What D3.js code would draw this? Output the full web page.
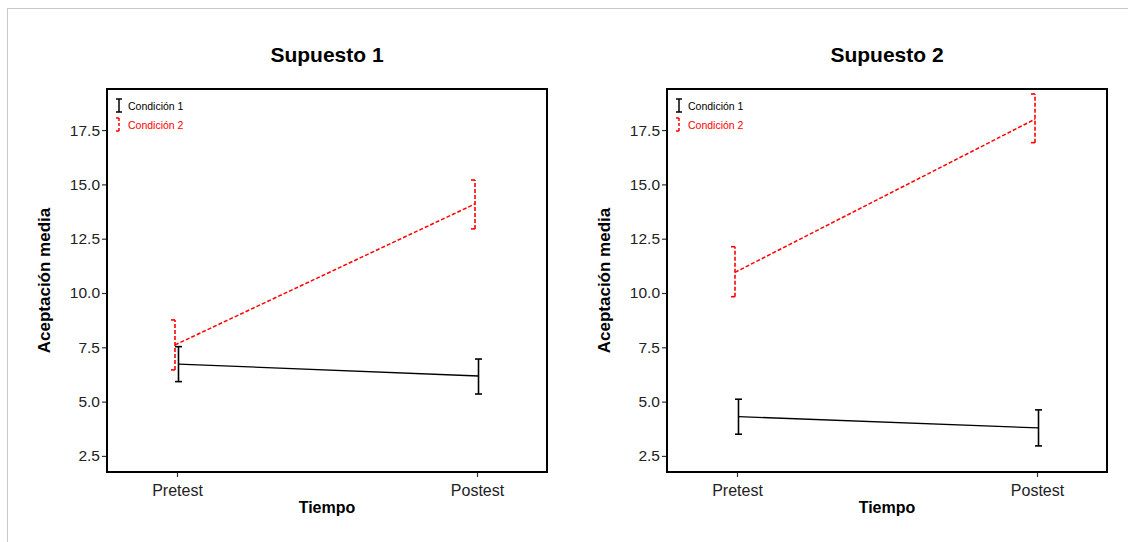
<!DOCTYPE html>
<html>
<head>
<meta charset="utf-8">
<script src="https://cdn.jsdelivr.net/npm/d3@7"></script>
<style>
  body { margin: 0; background: #fff; }
  text { font-family: "Liberation Sans", Arial, sans-serif; }
</style>
</head>
<body>
<svg id="chart" width="1128" height="542"></svg>
<script>
// data
const times = ["Pretest", "Postest"];
const conditions = ["Condición 1", "Condición 2"];
const panelTitles = ["Supuesto 1", "Supuesto 2"];
const yTicks = [2.5, 5.0, 7.5, 10.0, 12.5, 15.0, 17.5];

// Supuesto 1
const s1c1Mean = [6.73, 6.18];
const s1c1Low  = [5.92, 5.35];
const s1c1High = [7.53, 6.96];
const s1c2Mean = [7.61, 14.1];
const s1c2Low  = [6.46, 12.95];
const s1c2High = [8.76, 15.2];

// Supuesto 2
const s2c1Mean = [4.31, 3.79];
const s2c1Low  = [3.50, 2.96];
const s2c1High = [5.11, 4.62];
const s2c2Mean = [10.95, 18.0];
const s2c2Low  = [9.83, 16.92];
const s2c2High = [12.13, 19.16];

const panels = [
  { title: panelTitles[0], series: [
    { mean: s1c1Mean, low: s1c1Low, high: s1c1High },
    { mean: s1c2Mean, low: s1c2Low, high: s1c2High } ] },
  { title: panelTitles[1], series: [
    { mean: s2c1Mean, low: s2c1Low, high: s2c1High },
    { mean: s2c2Mean, low: s2c2Low, high: s2c2High } ] }
];

const svg = d3.select("#chart");

// light frame round the picture (right and bottom run off the page)
svg.append("rect")
  .attr("x", 7.5).attr("y", 8.5)
  .attr("width", 1130).attr("height", 540)
  .attr("fill", "none").attr("stroke", "#c8c8c8");

const W = 440, H = 383;
const colors = ["#000", "#ff0000"];
const dodge = [1.5, -2];

panels.forEach((p, pi) => {
  const g = svg.append("g").attr("transform", `translate(${107 + pi * 560}, 89)`);

  const x = d3.scalePoint().domain(times).range([0, W]).padding(0.2333);
  const y = d3.scaleLinear().domain([1.76, 19.39]).range([H, 0]);

  // axes
  const ya = g.append("g").call(d3.axisLeft(y).tickValues(yTicks).tickFormat(d3.format(".1f")).tickSize(5).tickPadding(2));
  const xa = g.append("g").attr("transform", `translate(0,${H})`)
    .call(d3.axisBottom(x).tickSize(5).tickPadding(8));
  [ya, xa].forEach(a => {
    a.select(".domain").remove();
    a.selectAll("line").attr("stroke", "#333").attr("stroke-width", 1.2);
    a.selectAll("text").attr("font-size", 15.5).attr("fill", "#222")
      .style("font-family", "'Liberation Sans', Arial, sans-serif");
  });
  xa.selectAll("text").attr("font-size", 16);

  // lines and error bars
  p.series.forEach((s, si) => {
    const dash = si === 1 ? "4,2" : null;
    const px = i => x(times[i]) + dodge[si];

    g.append("path")
      .datum(s.mean)
      .attr("d", d3.line().x((d, i) => px(i)).y(d => y(d)))
      .attr("fill", "none")
      .attr("stroke", colors[si])
      .attr("stroke-width", si === 1 ? 1.5 : 1.3)
      .attr("stroke-dasharray", dash);

    s.mean.forEach((m, i) => {
      const cx = px(i);
      const eb = g.append("g").attr("stroke", colors[si]).attr("stroke-width", 1.6)
        .attr("stroke-dasharray", dash).attr("fill", "none");
      eb.append("line").attr("x1", cx).attr("x2", cx).attr("y1", y(s.low[i])).attr("y2", y(s.high[i]));
      const c0 = si === 1 ? cx - 4 : cx - 3.5, c1 = si === 1 ? cx : cx + 3.5;
      [s.low[i], s.high[i]].forEach(v => {
        eb.append("line").attr("x1", c0).attr("x2", c1).attr("y1", y(v)).attr("y2", y(v))
          .attr("stroke-dasharray", null);
      });
    });
  });

  // frame
  g.append("rect").attr("width", W).attr("height", H)
    .attr("fill", "none").attr("stroke", "#000").attr("stroke-width", 2);

  // legend
  conditions.forEach((c, ci) => {
    const ly = 17 + ci * 19;
    const lg = g.append("g").attr("stroke", colors[ci]).attr("stroke-width", 1.5)
      .attr("stroke-dasharray", ci === 1 ? "3,2" : null);
    lg.append("line").attr("x1", 12).attr("x2", 12).attr("y1", ly - 7).attr("y2", ly + 6);
    const c0 = 9, c1 = ci === 1 ? 12 : 15;
    [ly - 7, ly + 6].forEach(v => lg.append("line").attr("x1", c0).attr("x2", c1)
      .attr("y1", v).attr("y2", v).attr("stroke-dasharray", null));
    g.append("text").attr("x", 21).attr("y", ly + 4)
      .attr("font-size", 10.5).attr("fill", colors[ci]).text(c);
  });

  // titles
  g.append("text").attr("x", W / 2).attr("y", -27)
    .attr("text-anchor", "middle").attr("font-size", 21).attr("font-weight", "bold")
    .text(p.title);
  g.append("text").attr("x", W / 2).attr("y", H + 41)
    .attr("text-anchor", "middle").attr("font-size", 16).attr("font-weight", "bold")
    .text("Tiempo");
  g.append("text").attr("transform", `translate(-57,${H / 2}) rotate(-90)`)
    .attr("text-anchor", "middle").attr("font-size", 17).attr("font-weight", "bold")
    .text("Aceptación media");
});
</script>
</body>
</html>
